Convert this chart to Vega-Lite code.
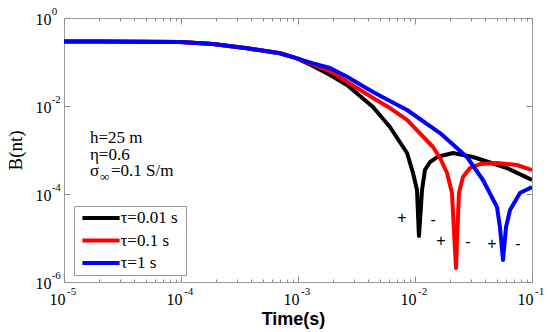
{
  "$schema": "https://vega.github.io/schema/vega-lite/v6.json",
  "width": 468,
  "height": 264,
  "autosize": {"type": "none"},
  "padding": {"left": 64, "top": 18, "right": 18, "bottom": 50},
  "background": "white",
  "config": {
    "view": {"stroke": "#9a9a9a", "strokeWidth": 1},
    "axis": {
      "domain": false,
      "grid": false,
      "tickColor": "#8a8a8a",
      "labelColor": "black",
      "labelFont": "Liberation Serif",
      "labelFontSize": 16,
      "titleColor": "black"
    }
  },
  "datasets": {
    "curves": [
      {"tau": "τ=0.01  s", "t": 1e-5, "B": 0.292},
      {"tau": "τ=0.01  s", "t": 2.03e-5, "B": 0.292},
      {"tau": "τ=0.01  s", "t": 4.47e-5, "B": 0.290},
      {"tau": "τ=0.01  s", "t": 9.8e-5, "B": 0.285},
      {"tau": "τ=0.01  s", "t": 1.88e-4, "B": 0.256},
      {"tau": "τ=0.01  s", "t": 3.66e-4, "B": 0.205},
      {"tau": "τ=0.01  s", "t": 7.02e-4, "B": 0.158},
      {"tau": "τ=0.01  s", "t": 9.8e-4, "B": 0.121},
      {"tau": "τ=0.01  s", "t": 0.001343, "B": 0.0811},
      {"tau": "τ=0.01  s", "t": 0.001879, "B": 0.0507},
      {"tau": "τ=0.01  s", "t": 0.002624, "B": 0.0300},
      {"tau": "τ=0.01  s", "t": 0.004375, "B": 0.00948},
      {"tau": "τ=0.01  s", "t": 0.006109, "B": 0.00333},
      {"tau": "τ=0.01  s", "t": 0.008551, "B": 0.000855},
      {"tau": "τ=0.01  s", "t": 0.009616, "B": 0.0003},
      {"tau": "τ=0.01  s", "t": 0.0104, "B": 0.000123},
      {"tau": "τ=0.01  s", "t": 0.01081, "B": 0.0000111},
      {"tau": "τ=0.01  s", "t": 0.01148, "B": 0.000123},
      {"tau": "τ=0.01  s", "t": 0.01216, "B": 0.000351},
      {"tau": "τ=0.01  s", "t": 0.01343, "B": 0.000533},
      {"tau": "τ=0.01  s", "t": 0.01542, "B": 0.000693},
      {"tau": "τ=0.01  s", "t": 0.02113, "B": 0.000855},
      {"tau": "τ=0.01  s", "t": 0.03133, "B": 0.000693},
      {"tau": "τ=0.01  s", "t": 0.0611, "B": 0.00039},
      {"tau": "τ=0.01  s", "t": 0.1, "B": 0.000208},

      {"tau": "τ=0.1  s", "t": 1e-5, "B": 0.292},
      {"tau": "τ=0.1  s", "t": 2.03e-5, "B": 0.292},
      {"tau": "τ=0.1  s", "t": 4.47e-5, "B": 0.290},
      {"tau": "τ=0.1  s", "t": 9.8e-5, "B": 0.285},
      {"tau": "τ=0.1  s", "t": 1.88e-4, "B": 0.256},
      {"tau": "τ=0.1  s", "t": 3.66e-4, "B": 0.205},
      {"tau": "τ=0.1  s", "t": 7.02e-4, "B": 0.158},
      {"tau": "τ=0.1  s", "t": 9.8e-4, "B": 0.121},
      {"tau": "τ=0.1  s", "t": 0.001343, "B": 0.0877},
      {"tau": "τ=0.1  s", "t": 0.001879, "B": 0.0624},
      {"tau": "τ=0.1  s", "t": 0.002624, "B": 0.0357},
      {"tau": "τ=0.1  s", "t": 0.004375, "B": 0.0152},
      {"tau": "τ=0.1  s", "t": 0.006109, "B": 0.0090},
      {"tau": "τ=0.1  s", "t": 0.008551, "B": 0.00481},
      {"tau": "τ=0.1  s", "t": 0.01426, "B": 0.00117},
      {"tau": "τ=0.1  s", "t": 0.01637, "B": 0.000658},
      {"tau": "τ=0.1  s", "t": 0.0188, "B": 0.0003},
      {"tau": "τ=0.1  s", "t": 0.0207, "B": 0.000105},
      {"tau": "τ=0.1  s", "t": 0.0224, "B": 0.00000209},
      {"tau": "τ=0.1  s", "t": 0.02375, "B": 0.000105},
      {"tau": "τ=0.1  s", "t": 0.0257, "B": 0.000243},
      {"tau": "τ=0.1  s", "t": 0.0295, "B": 0.00039},
      {"tau": "τ=0.1  s", "t": 0.0360, "B": 0.000481},
      {"tau": "τ=0.1  s", "t": 0.0502, "B": 0.000507},
      {"tau": "τ=0.1  s", "t": 0.0745, "B": 0.000456},
      {"tau": "τ=0.1  s", "t": 0.1, "B": 0.000351},

      {"tau": "τ=1  s", "t": 1e-5, "B": 0.292},
      {"tau": "τ=1  s", "t": 2.03e-5, "B": 0.292},
      {"tau": "τ=1  s", "t": 4.47e-5, "B": 0.290},
      {"tau": "τ=1  s", "t": 9.8e-5, "B": 0.285},
      {"tau": "τ=1  s", "t": 1.88e-4, "B": 0.256},
      {"tau": "τ=1  s", "t": 3.66e-4, "B": 0.205},
      {"tau": "τ=1  s", "t": 7.02e-4, "B": 0.158},
      {"tau": "τ=1  s", "t": 9.8e-4, "B": 0.121},
      {"tau": "τ=1  s", "t": 0.001343, "B": 0.0934},
      {"tau": "τ=1  s", "t": 0.001879, "B": 0.0731},
      {"tau": "τ=1  s", "t": 0.002624, "B": 0.0463},
      {"tau": "τ=1  s", "t": 0.004375, "B": 0.0208},
      {"tau": "τ=1  s", "t": 0.006109, "B": 0.013},
      {"tau": "τ=1  s", "t": 0.008551, "B": 0.00811},
      {"tau": "τ=1  s", "t": 0.01637, "B": 0.00243},
      {"tau": "τ=1  s", "t": 0.0278, "B": 0.000693},
      {"tau": "τ=1  s", "t": 0.0381, "B": 0.000208},
      {"tau": "τ=1  s", "t": 0.0502, "B": 0.0000507},
      {"tau": "τ=1  s", "t": 0.0532, "B": 0.0000178},
      {"tau": "τ=1  s", "t": 0.0565, "B": 0.00000316},
      {"tau": "τ=1  s", "t": 0.06, "B": 0.0000178},
      {"tau": "τ=1  s", "t": 0.0649, "B": 0.0000433},
      {"tau": "τ=1  s", "t": 0.0789, "B": 0.000105},
      {"tau": "τ=1  s", "t": 0.1, "B": 0.000144}
    ],
    "anno": [
      {"t": 1.667e-5, "B": 0.001442, "label": "h=25  m", "kind": "main"},
      {"t": 1.667e-5, "B": 0.000593, "label": "η=0.6", "kind": "main"},
      {"t": 1.667e-5, "B": 0.000256, "label": "σ", "kind": "main"},
      {"t": 1.667e-5, "B": 0.000256, "label": "∞", "kind": "sub"},
      {"t": 1.667e-5, "B": 0.000256, "label": "=0.1  S/m", "kind": "rest"}
    ],
    "signs": [
      {"t": 0.00774, "B": 0.0000285, "s": "+"},
      {"t": 0.01426, "B": 0.0000256, "s": "-"},
      {"t": 0.01667, "B": 0.00000855, "s": "+"},
      {"t": 0.02838, "B": 0.0000081, "s": "-"},
      {"t": 0.0455, "B": 0.0000073, "s": "+"},
      {"t": 0.0759, "B": 0.0000073, "s": "-"}
    ],
    "xexp": [
      {"t": 0.00001, "e": "-5"},
      {"t": 0.0001, "e": "-4"},
      {"t": 0.001, "e": "-3"},
      {"t": 0.01, "e": "-2"},
      {"t": 0.1, "e": "-1"}
    ],
    "yexp": [
      {"B": 0.000001, "e": "-6"},
      {"B": 0.0001, "e": "-4"},
      {"B": 0.01, "e": "-2"},
      {"B": 1, "e": "0"}
    ]
  },
  "layer": [
    {
      "data": {"name": "curves"},
      "mark": {"type": "line", "strokeWidth": 4, "strokeJoin": "round", "clip": true},
      "encoding": {
        "x": {
          "field": "t", "type": "quantitative",
          "scale": {"type": "log", "domain": [0.00001, 0.1], "nice": false},
          "axis": {
            "orient": "bottom",
            "title": "Time(s)",
            "titleFont": "Liberation Sans",
            "titleFontWeight": "bold",
            "titleFontSize": 18,
            "titleX": 229,
            "titleY": 42,
            "titleBaseline": "alphabetic",
            "values": [0.00001,0.00002,0.00003,0.00004,0.00005,0.00006,0.00007,0.00008,0.00009,0.0001,0.0002,0.0003,0.0004,0.0005,0.0006,0.0007,0.0008,0.0009,0.001,0.002,0.003,0.004,0.005,0.006,0.007,0.008,0.009,0.01,0.02,0.03,0.04,0.05,0.06,0.07,0.08,0.09,0.1],
            "tickSize": {"condition": {"test": "abs(log(datum.value)/LN10 - round(log(datum.value)/LN10)) < 0.01", "value": -6}, "value": -3},
            "labelExpr": "abs(log(datum.value)/LN10 - round(log(datum.value)/LN10)) < 0.01 ? '10' : ''",
            "labelOverlap": false,
            "labelFlush": false,
            "labelOffset": -7,
            "labelPadding": 15
          }
        },
        "y": {
          "field": "B", "type": "quantitative",
          "scale": {"type": "log", "domain": [0.000001, 1], "nice": false},
          "axis": {
            "orient": "left",
            "title": "B(nt)",
            "titleFont": "Liberation Serif",
            "titleFontWeight": "normal",
            "titleFontSize": 19,
            "titleX": -49,
            "titleY": 132,
            "titleBaseline": "middle",
            "titleAngle": 270,
            "values": [0.000001, 0.0001, 0.01, 1],
            "tickSize": -6,
            "labelExpr": "'10'",
            "labelPadding": 19,
            "labelOffset": 1
          }
        },
        "color": {
          "field": "tau", "type": "nominal",
          "scale": {"domain": ["τ=0.01  s", "τ=0.1  s", "τ=1  s"], "range": ["#000000", "#ff0000", "#0000ff"]},
          "legend": {
            "orient": "none",
            "legendX": 10,
            "legendY": 188,
            "title": null,
            "symbolType": "M-3.1,0H3.1",
            "symbolStrokeWidth": 4,
            "symbolSize": 144,
            "symbolOffset": 15,
            "labelFont": "Liberation Serif",
            "labelFontSize": 17,
            "labelColor": "black",
            "labelOffset": 11,
            "strokeColor": "#9a9a9a",
            "fillColor": "white",
            "padding": 3.5,
            "rowPadding": 4.5
          }
        }
      }
    },
    {
      "data": {"name": "anno"},
      "transform": [{"filter": "datum.kind == 'main'"}],
      "mark": {"type": "text", "align": "left", "baseline": "alphabetic", "font": "Liberation Serif", "fontSize": 17, "color": "black"},
      "encoding": {
        "x": {
          "field": "t", "type": "quantitative",
          "axis": {
            "orient": "top", "title": null, "labels": false,
            "values": [0.00001,0.00002,0.00003,0.00004,0.00005,0.00006,0.00007,0.00008,0.00009,0.0001,0.0002,0.0003,0.0004,0.0005,0.0006,0.0007,0.0008,0.0009,0.001,0.002,0.003,0.004,0.005,0.006,0.007,0.008,0.009,0.01,0.02,0.03,0.04,0.05,0.06,0.07,0.08,0.09,0.1],
            "tickSize": {"condition": {"test": "abs(log(datum.value)/LN10 - round(log(datum.value)/LN10)) < 0.01", "value": -6}, "value": -3}
          }
        },
        "y": {
          "field": "B", "type": "quantitative",
          "axis": {"orient": "right", "title": null, "labels": false, "values": [0.000001, 0.0001, 0.01, 1], "tickSize": -6}
        },
        "text": {"field": "label"}
      }
    },
    {
      "data": {"name": "anno"},
      "transform": [{"filter": "datum.kind == 'sub'"}],
      "mark": {"type": "text", "align": "left", "baseline": "alphabetic", "font": "Liberation Serif", "fontSize": 13, "color": "black", "dx": 10, "dy": 5},
      "encoding": {
        "x": {"field": "t", "type": "quantitative", "axis": null},
        "y": {"field": "B", "type": "quantitative", "axis": null},
        "text": {"field": "label"}
      }
    },
    {
      "data": {"name": "anno"},
      "transform": [{"filter": "datum.kind == 'rest'"}],
      "mark": {"type": "text", "align": "left", "baseline": "alphabetic", "font": "Liberation Serif", "fontSize": 17, "color": "black", "dx": 21},
      "encoding": {
        "x": {"field": "t", "type": "quantitative", "axis": null},
        "y": {"field": "B", "type": "quantitative", "axis": null},
        "text": {"field": "label"}
      }
    },
    {
      "data": {"name": "signs"},
      "mark": {"type": "text", "align": "center", "baseline": "middle", "font": "Liberation Sans", "fontSize": 16, "color": "black"},
      "encoding": {
        "x": {"field": "t", "type": "quantitative", "axis": null},
        "y": {"field": "B", "type": "quantitative", "axis": null},
        "text": {"field": "s"}
      }
    },
    {
      "data": {"name": "xexp"},
      "mark": {"type": "text", "align": "left", "baseline": "top", "font": "Liberation Serif", "fontSize": 11, "color": "black", "dx": 3, "dy": 3.5},
      "encoding": {
        "x": {"field": "t", "type": "quantitative", "axis": null},
        "y": {"datum": 0.000001, "type": "quantitative", "axis": null},
        "text": {"field": "e"}
      }
    },
    {
      "data": {"name": "yexp"},
      "mark": {"type": "text", "align": "left", "baseline": "top", "font": "Liberation Serif", "fontSize": 11, "color": "black", "dx": -12.3, "dy": -12.5},
      "encoding": {
        "x": {"datum": 0.00001, "type": "quantitative", "axis": null},
        "y": {"field": "B", "type": "quantitative", "axis": null},
        "text": {"field": "e"}
      }
    }
  ],
  "resolve": {"axis": {"x": "independent", "y": "independent"}}
}
